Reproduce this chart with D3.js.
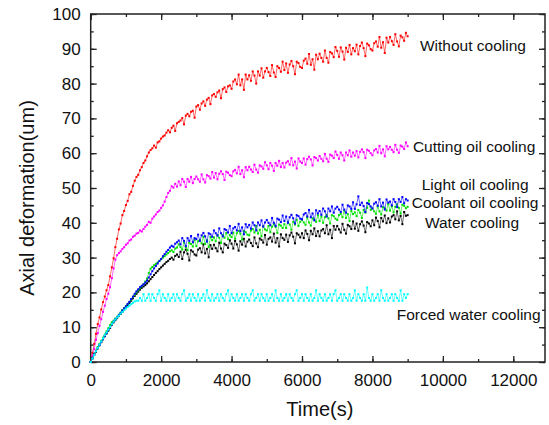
<!DOCTYPE html>
<html>
<head>
<meta charset="utf-8">
<script src="https://cdn.jsdelivr.net/npm/d3@7"></script>
<style>
  body { margin: 0; background: #fff; }
  svg { font-family: "Liberation Sans", Arial, sans-serif; }
</style>
</head>
<body>
<svg width="549" height="425"></svg>
<script>
// samples every 50 s from 0 to 9000 s
var timeStep = 50

var withoutCooling = [
  0,2.6,5.2,8.1,10.9,12.8,15.1,17.2,18.8,20.6,
  22.1,24.6,27.2,29.8,33.0,35.4,38.1,39.8,42.2,43.4,
  45.1,46.3,48.2,48.9,50.6,52.1,53.2,53.8,55.1,56.0,
  57.2,57.9,59.1,60.2,60.9,61.4,62.2,61.6,63.1,63.4,
  64.2,64.8,65.1,65.9,66.6,66.0,67.3,67.9,66.4,68.6,
  69.0,69.4,70.1,68.3,70.8,71.3,70.6,71.9,72.2,70.2,
  73.4,73.8,72.5,74.3,74.9,73.6,75.4,75.9,74.1,76.6,
  77.0,76.2,77.5,78.0,75.8,78.4,78.9,77.6,79.2,79.5,
  78.5,80.6,81.2,79.8,82.6,79.5,81.2,78.2,82.6,81.2,
  82.4,80.8,83.5,82.3,80.0,83.5,82.3,84.4,81.7,83.5,
  84.5,83.3,82.2,85.3,83.2,81.9,85.0,84.5,83.4,86.3,
  83.9,85.8,83.1,85.5,86.5,85.0,82.7,86.3,85.9,84.8,
  84.5,86.6,87.2,85.7,88.5,85.4,87.0,84.0,88.3,87.0,
  88.6,87.4,86.3,89.5,87.4,86.0,89.1,88.7,87.6,90.5,
  89.4,87.7,90.4,89.2,86.9,90.3,89.1,91.1,88.4,90.2,
  89.3,91.2,88.4,90.8,91.8,90.2,87.9,91.5,91.0,89.9,
  89.5,91.6,92.1,90.6,93.4,90.3,91.9,88.8,93.2,91.8,
  93.4,92.2,91.1,94.2,92.1,90.7,93.8,93.3,92.3,94.6,
  93.6]

var cuttingOil = [
  0,1.8,3.7,6.4,8.3,10.4,12.3,14.4,16.2,18.1,
  19.6,21.5,24.1,26.9,29.4,30.7,31.3,31.8,32.5,33.0,
  33.7,34.1,34.9,35.2,36.0,36.3,36.9,37.1,37.8,37.5,
  38.2,38.9,39.4,40.3,40.0,41.2,41.8,42.4,43.1,43.5,
  44.3,45.0,46.1,47.4,48.6,49.2,50.5,50.1,51.2,50.4,
  51.9,50.8,52.6,51.8,50.3,52.6,51.8,53.2,51.4,52.6,
  53.3,52.5,51.8,53.9,52.5,51.6,53.7,53.4,52.7,54.6,
  53.0,54.3,52.5,54.1,54.8,54.0,52.3,54.7,54.4,53.7,
  53.4,54.8,55.2,54.2,56.1,54.0,55.1,53.1,56.0,55.1,
  56.1,55.3,54.6,56.7,55.3,54.4,56.5,56.2,55.5,57.4,
  56.5,55.4,57.2,56.4,54.9,57.2,56.4,57.8,56.0,57.2,
  55.9,57.3,57.7,56.7,58.6,56.5,57.6,55.6,58.5,57.6,
  57.2,58.5,56.7,58.3,59.0,58.2,56.5,58.9,58.6,57.9,
  59.2,58.4,57.7,59.8,58.4,57.5,59.6,59.3,58.6,60.5,
  59.5,58.4,60.2,59.4,57.9,60.2,59.4,60.8,59.0,60.2,
  59.3,60.6,58.8,60.4,61.1,60.3,58.6,61.0,60.7,60.0,
  59.4,60.8,61.2,60.2,62.1,60.0,61.1,59.1,62.0,61.1,
  61.8,61.0,60.3,62.4,61.0,60.1,62.2,61.9,61.2,63.1,
  62.0]

var waterCooling = [
  0,1.0,2.0,2.9,3.9,4.8,5.7,6.5,7.4,8.2,
  9.0,9.8,10.7,11.4,12.0,12.6,13.2,13.8,14.4,15.0,
  15.6,16.3,16.9,17.6,18.3,19.0,19.6,20.2,20.8,21.3,
  21.7,22.1,22.6,23.2,23.8,24.4,25.0,25.6,26.1,26.7,
  27.2,27.7,28.2,28.7,29.1,29.6,30.0,29.4,30.5,30.9,
  30.2,31.7,29.6,31.5,32.3,31.1,29.2,32.1,31.7,30.9,
  30.6,32.3,32.7,31.5,33.8,31.2,32.5,30.1,33.6,32.5,
  33.7,32.7,31.8,34.3,32.6,31.5,34.0,33.6,32.8,35.0,
  34.0,32.6,34.8,33.8,32.0,34.7,33.7,35.4,33.2,34.6,
  35.2,34.2,33.3,35.8,34.1,33.0,35.5,35.1,34.3,36.5,
  33.7,35.4,35.8,34.6,36.9,34.3,35.6,33.2,36.7,35.6,
  35.1,36.6,34.5,36.4,37.2,36.0,34.1,37.0,36.6,35.8,
  37.0,35.6,37.8,36.8,35.0,37.7,36.7,38.4,36.2,37.6,
  36.1,37.8,38.2,37.0,39.3,36.7,38.0,35.6,39.1,38.0,
  39.1,38.1,37.2,39.7,38.0,36.9,39.4,39.0,38.2,40.4,
  38.3,39.8,37.7,39.6,40.4,39.2,37.3,40.2,39.8,39.0,
  40.7,39.3,41.5,40.5,38.7,41.4,40.4,42.1,39.9,41.3,
  40.1,41.8,42.2,41.0,43.3,40.7,42.0,39.6,43.1,42.0,
  42.2]

var coolantOil = [
  0,1.2,2.4,3.3,4.3,5.2,6.1,7.0,7.9,8.8,
  9.7,10.6,11.4,11.9,12.5,13.0,13.6,14.2,14.9,15.5,
  16.1,16.6,17.2,17.9,18.6,19.3,20.0,20.6,21.2,21.7,
  22.4,23.1,24.0,25.6,26.8,27.3,27.8,28.2,28.6,29.1,
  29.5,30.0,30.4,30.9,31.3,31.8,32.1,31.6,32.6,32.9,
  33.8,33.0,32.3,34.4,33.0,32.1,34.2,33.9,33.2,35.1,
  33.3,34.7,35.1,34.1,36.0,33.9,35.0,33.0,35.9,35.0,
  35.8,34.7,36.5,35.7,34.2,36.5,35.7,37.1,35.3,36.5,
  35.9,37.2,35.4,37.0,37.7,36.9,35.2,37.6,37.3,36.6,
  36.4,37.8,38.2,37.2,39.1,36.9,38.0,36.1,39.0,38.1,
  37.8,39.1,37.3,38.9,39.6,38.8,37.1,39.5,39.2,38.5,
  39.6,38.5,40.3,39.5,38.0,40.3,39.5,40.9,39.1,40.3,
  40.9,40.1,39.4,41.5,40.1,39.2,41.3,41.0,40.3,42.2,
  40.5,41.8,40.0,41.6,42.3,41.3,39.8,42.2,41.9,41.2,
  40.8,42.2,42.6,41.6,43.5,41.4,42.5,40.5,43.4,42.5,
  43.0,41.9,43.7,42.9,41.4,43.7,42.9,44.3,46.4,43.7,
  44.1,43.3,42.6,44.7,43.3,42.4,44.5,44.2,43.5,45.4,
  43.5,44.8,43.0,44.6,45.3,44.3,42.7,45.2,44.9,44.2,
  44.6]

var lightOil = [
  0,1.1,2.2,3.1,4.0,4.9,5.8,6.6,7.5,8.3,
  9.2,10.0,10.9,11.6,12.3,12.9,13.5,14.1,14.8,15.4,
  16.0,16.7,17.3,18.1,18.8,19.6,20.3,20.9,21.5,21.9,
  22.3,22.8,23.4,24.3,25.2,26.1,26.9,27.6,28.3,29.0,
  29.6,30.4,31.0,31.7,32.2,32.9,33.4,33.1,34.0,34.4,
  34.9,33.8,35.6,34.8,33.3,35.6,34.8,36.2,34.4,35.6,
  35.3,36.6,34.8,36.4,37.1,36.1,34.6,37.0,36.7,36.0,
  37.8,37.0,36.3,38.4,37.0,36.1,38.2,37.9,37.2,39.1,
  37.0,38.4,38.8,37.8,39.7,37.6,38.7,36.7,39.6,38.7,
  39.4,38.3,40.1,39.3,37.8,40.1,39.3,40.7,38.9,40.1,
  40.8,40.0,39.3,41.4,40.0,39.1,41.2,40.9,40.2,42.1,
  40.5,41.8,40.0,41.6,42.3,41.3,39.8,42.2,41.9,41.2,
  41.0,42.4,42.8,41.8,43.7,41.6,42.7,40.7,43.6,42.7,
  43.4,42.3,44.1,43.3,41.8,44.1,43.3,44.7,42.9,44.1,
  44.6,43.8,43.1,45.2,43.8,42.9,45.0,44.7,44.0,45.9,
  44.0,45.3,47.6,45.1,45.8,44.8,43.1,45.7,45.4,44.7,
  44.1,45.5,45.9,44.9,46.8,44.7,45.8,43.8,46.7,45.8,
  46.1,45.0,46.8,46.0,44.5,46.8,46.0,47.4,45.6,46.8,
  46.4]

var forcedWater = [
  0,1.0,2.0,3.1,4.0,5.0,5.9,6.8,7.7,8.5,
  9.3,10.1,10.9,11.6,12.2,12.8,13.3,13.9,14.4,14.9,
  15.4,15.8,16.2,16.6,17.0,17.4,17.6,17.6,18.4,17.6,
  19.5,17.6,18.4,19.5,17.6,19.5,18.4,17.6,19.5,20.6,
  17.6,19.5,18.4,17.6,19.5,17.6,18.4,19.5,17.6,19.5,
  18.4,17.6,19.5,20.6,17.6,18.4,19.5,17.6,19.5,18.4,
  17.6,19.5,17.6,18.4,19.5,17.6,20.6,18.4,17.6,19.5,
  17.6,18.4,19.5,17.6,19.5,18.4,17.6,19.5,20.6,17.6,
  19.5,18.4,17.6,19.5,17.6,18.4,19.5,17.6,19.5,18.4,
  17.6,19.5,20.6,17.6,18.4,19.5,17.6,19.5,18.4,17.6,
  19.5,17.6,18.4,19.5,17.6,20.6,18.4,17.6,19.5,17.6,
  18.4,19.5,17.6,19.5,18.4,17.6,19.5,20.6,17.6,18.4,
  19.5,17.6,19.5,18.4,17.6,19.5,17.6,18.4,20.6,17.6,
  19.5,18.4,17.6,19.5,17.6,18.4,19.5,17.6,19.5,20.6,
  17.6,18.4,19.5,17.6,19.5,18.4,17.6,19.5,17.6,18.4,
  20.6,17.6,19.5,18.4,17.6,19.5,17.6,21.4,18.4,17.6,
  19.5,17.6,18.4,19.5,17.6,20.6,18.4,17.6,19.5,17.6,
  18.4,19.5,17.6,19.5,18.4,17.6,20.6,17.6,19.5,18.4,
  19.5]

var seriesNames = ["Without cooling", "Cutting oil cooling", "Water cooling", "Coolant oil cooling", "Light oil cooling", "Forced water cooling"]
var seriesValues = [withoutCooling, cuttingOil, waterCooling, coolantOil, lightOil, forcedWater]
var seriesColors = ["#ff0000", "#ff00ff", "#000000", "#00e000", "#0000ff", "#00ffff"]

// label anchor in data units (time, deformation), text starts there
var labelPos = [[9350, 90.8], [9150, 61.8], [9490, 40.2], [9115, 45.7], [9400, 50.9], [8690, 13.5]]

var xTicks = [0, 2000, 4000, 6000, 8000, 10000, 12000]
var yTicks = [0, 10, 20, 30, 40, 50, 60, 70, 80, 90, 100]

var svg = d3.select("svg")
var mLeft = 90.7, mRight = 545, mTop = 14, mBottom = 362

var x = d3.scaleLinear().domain([0, 12900]).range([mLeft, mRight])
var y = d3.scaleLinear().domain([0, 100]).range([mBottom, mTop])

var minorX = d3.range(0, 13000, 1000)
var minorY = d3.range(0, 101, 5)

// frame
svg.append("rect")
  .attr("x", mLeft).attr("y", mTop)
  .attr("width", mRight - mLeft).attr("height", mBottom - mTop)
  .attr("fill", "none").attr("stroke", "#222").attr("stroke-width", 1.5)

function styleAxis(g) {
  g.select(".domain").remove()
  g.selectAll(".tick line").attr("stroke", "#222").attr("stroke-width", 1.3)
  g.selectAll(".tick text").attr("fill", "#111").style("font-size", "17px")
    .style("font-family", "'Liberation Sans', Arial, sans-serif")
}

// bottom
svg.append("g").attr("transform", "translate(0," + mBottom + ")")
  .call(d3.axisBottom(x).tickValues(minorX).tickSize(-3).tickFormat("")).call(styleAxis)
svg.append("g").attr("transform", "translate(0," + mBottom + ")")
  .call(d3.axisBottom(x).tickValues(xTicks).tickSizeInner(-6).tickSizeOuter(0).tickPadding(12)
    .tickFormat(d3.format("d"))).call(styleAxis)
// top
svg.append("g").attr("transform", "translate(0," + mTop + ")")
  .call(d3.axisTop(x).tickValues(minorX).tickSize(-3).tickFormat("")).call(styleAxis)
svg.append("g").attr("transform", "translate(0," + mTop + ")")
  .call(d3.axisTop(x).tickValues(xTicks).tickSize(-6).tickFormat("")).call(styleAxis)
// left
svg.append("g").attr("transform", "translate(" + mLeft + ",0)")
  .call(d3.axisLeft(y).tickValues(minorY).tickSize(-3).tickFormat("")).call(styleAxis)
svg.append("g").attr("transform", "translate(" + mLeft + ",0)")
  .call(d3.axisLeft(y).tickValues(yTicks).tickSizeInner(-6).tickSizeOuter(0).tickPadding(10)
    .tickFormat(d3.format("d"))).call(styleAxis)
// right
svg.append("g").attr("transform", "translate(" + mRight + ",0)")
  .call(d3.axisRight(y).tickValues(minorY).tickSize(-3).tickFormat("")).call(styleAxis)
svg.append("g").attr("transform", "translate(" + mRight + ",0)")
  .call(d3.axisRight(y).tickValues(yTicks).tickSize(-6).tickFormat("")).call(styleAxis)

var line = d3.line()
  .x(function(d, i) { return x(i * timeStep) })
  .y(function(d) { return y(d) })

seriesValues.forEach(function(vals, k) {
  var g = svg.append("g")
  g.append("path")
    .attr("d", line(vals))
    .attr("fill", "none")
    .attr("stroke", seriesColors[k])
    .attr("stroke-width", 0.6)
  g.selectAll("rect")
    .data(vals)
    .enter().append("rect")
    .attr("x", function(d, i) { return x(i * timeStep) - 1 })
    .attr("y", function(d) { return y(d) - 1 })
    .attr("width", 2).attr("height", 2)
    .attr("fill", seriesColors[k])
})

// series labels
seriesNames.forEach(function(name, k) {
  svg.append("text")
    .attr("x", x(labelPos[k][0]))
    .attr("y", y(labelPos[k][1]))
    .attr("dy", "0.35em")
    .attr("fill", "#111")
    .style("font-size", "15.5px")
    .text(name)
})

// axis titles
svg.append("text")
  .attr("x", (mLeft + mRight) / 2 + 2)
  .attr("y", 416)
  .attr("text-anchor", "middle")
  .style("font-size", "20px")
  .attr("fill", "#111")
  .text("Time(s)")

svg.append("text")
  .attr("transform", "translate(34," + ((mTop + mBottom) / 2 + 10) + ") rotate(-90)")
  .attr("text-anchor", "middle")
  .style("font-size", "20px")
  .attr("fill", "#111")
  .text("Axial deformation(um)")
</script>
</body>
</html>
